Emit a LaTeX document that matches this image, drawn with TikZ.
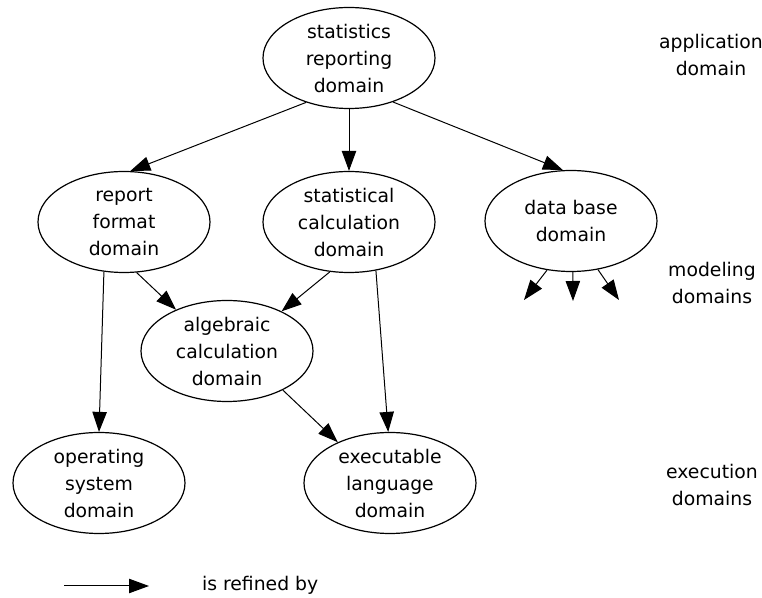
\documentclass[tikz,border=0pt]{standalone}
\usepackage{fontspec}
\setmainfont{DejaVu Sans}
\usetikzlibrary{arrows.meta,positioning,shapes.geometric}

\tikzset{
  dombox/.style={ellipse,draw,line width=0.6pt,minimum width=86pt,minimum height=50.5pt,
    inner sep=0pt,align=center,font=\fontsize{9.4}{13.5}\selectfont},
  layer/.style={align=center,font=\fontsize{9.4}{13.5}\selectfont},
  refine/.style={line width=0.5pt,-{Triangle[length=10pt,width=7.2pt]}}
}

\begin{document}
\begin{tikzpicture}[x=0.5pt,y=-0.5pt]
		\useasboundingbox (0,0) rectangle (762,598);
		% domains
		\node[dombox] (sr) at (349,58) {statistics\\reporting\\domain};
		\node[dombox] (rf) at (124,222) {report\\format\\domain};
		\node[dombox] (sc) at (349,222) {statistical\\calculation\\domain};
		\node[dombox] (db) at (571,221) {data base\\domain};
		\node[dombox] (alg) at (227,351) {algebraic\\calculation\\domain};
		\node[dombox] (os) at (99,483) {operating\\system\\domain};
		\node[dombox] (exe) at (390,483) {executable\\language\\domain};
		% layer names
		\node[layer] (app) at (711,55) {application\\domain};
		\node[layer] (mod) at (712,283) {modeling\\domains};
		\node[layer] (exc) at (712,485) {execution\\domains};
		% refinements
		\draw[refine] (sr.-134) -- (rf.83);
		\draw[refine] (sr.south) -- (sc.north);
		\draw[refine] (sr.-45) -- (db.99);
		\draw[refine] (rf.-76) -- (alg.141);
		\draw[refine] (sc.-111) -- (alg.36);
		\draw[refine] (rf.-112) -- (os.north);
		\draw[refine] (sc.-61) -- (exe.92);
		\draw[refine] (alg.-35) -- (exe.142);
		% open ends below data base
		\coordinate (dbL) at (524,300);
		\coordinate (dbM) at (573,301);
		\coordinate (dbR) at (619,300);
		\draw[refine] (db.-116) -- (dbL);
		\draw[refine] (db.-88) -- (dbM);
		\draw[refine] (db.-61) -- (dbR);
		% legend
		\coordinate (lgA) at (64,586);
		\coordinate (lgB) at (149,586);
		\draw[refine] (lgA) -- (lgB);
		\node[layer,anchor=west] (lgtext) at (195,585) {is refined by};
\end{tikzpicture}
\end{document}
